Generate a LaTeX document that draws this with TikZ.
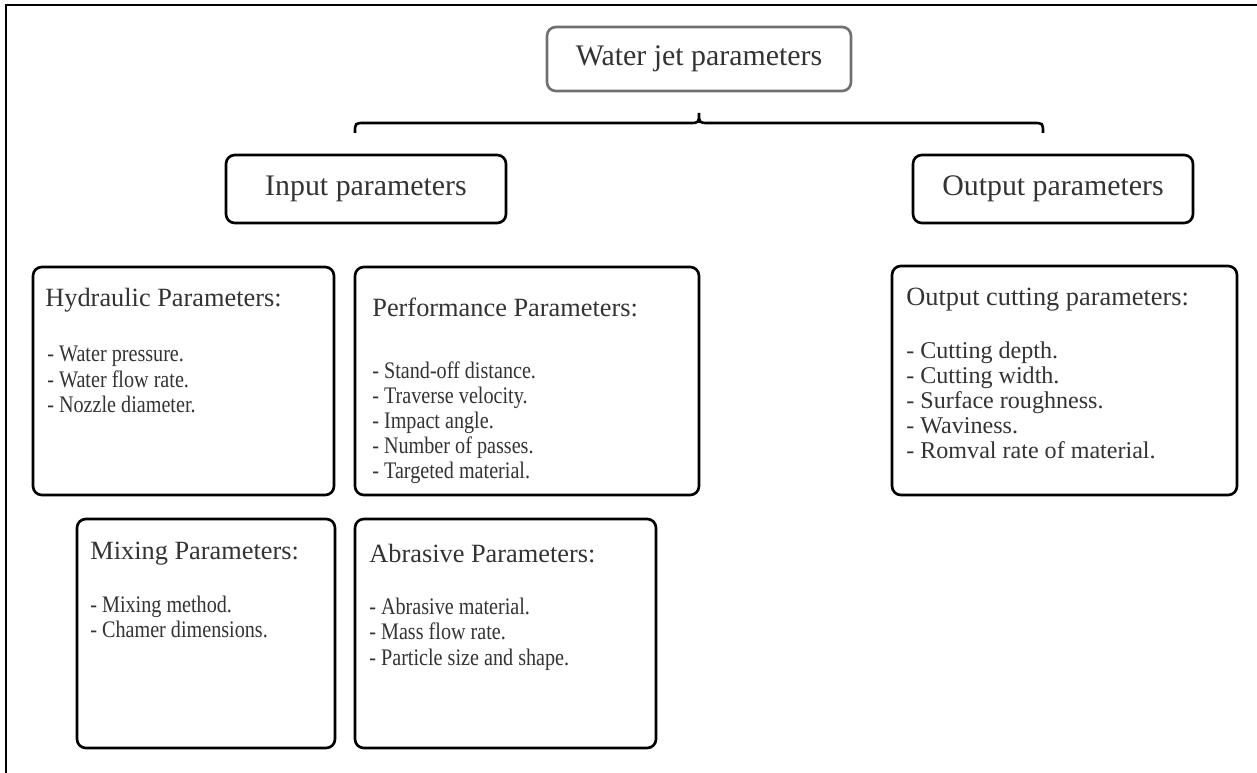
\documentclass[tikz,border=0pt]{standalone}
\usepackage{fontspec}
\setmainfont{Liberation Serif}
\newfontfamily\narrowserif[FakeStretch=0.85]{Liberation Serif}
\usetikzlibrary{positioning}
\definecolor{inkgray}{HTML}{333333}
\definecolor{framegray}{HTML}{707070}

\begin{document}
\begin{tikzpicture}[x=0.02cm,y=-0.02cm,
 title/.style={rounded corners=5pt,draw,line width=1.5pt,align=center,inner sep=0pt,text=inkgray,font=\fontsize{17}{20}\selectfont},
 pbox/.style={rounded corners=5pt,draw,line width=1.5pt,inner sep=0pt},
 head/.style={anchor=west,inner sep=0pt,text=inkgray,font=\fontsize{15}{18}\selectfont},
 items/.style={anchor=north west,inner sep=0pt,align=left,text=inkgray,font=\narrowserif\fontsize{13.5}{14.3}\selectfont},
 brace/.style={line width=1.5pt}]
\useasboundingbox (0,0) rectangle (1257,773);
% outer frame (top and left only)
\draw[line width=1.1pt] (6,773) -- (6,5) -- (1257,5);

% top level
\node[title,draw=framegray,minimum width=6.08cm,minimum height=1.28cm] (wj) at (699,59) {Water jet parameters};
\coordinate (tip) at (699,113);
\draw[brace] (355,133) .. controls (355,123) .. (365,123) -- (689,123) .. controls (699,123) .. (tip)
 .. controls (699,123) .. (709,123) -- (1033,123) .. controls (1043,123) .. (1043,133);

\node[title,minimum width=5.6cm,minimum height=1.36cm] (in) at (366,189) {Input parameters};
\node[title,minimum width=5.6cm,minimum height=1.36cm] (out) at (1053,189) {Output parameters};

% input groups
\node[pbox,minimum width=6.02cm,minimum height=4.56cm] (hyd) at (183.5,381) {};
\node[head] (hydh) at (45,300) {Hydraulic Parameters:};
\node[items] (hydl) at (47,346) {- Water pressure.\\- Water flow rate.\\- Nozzle diameter.};

\node[pbox,minimum width=6.88cm,minimum height=4.56cm] (perf) at (527,381) {};
\node[head] (perfh) at (372,307) {Performance Parameters:};
\node[items] (perfl) at (372,361) {- Stand-off distance.\\- Traverse velocity.\\- Impact angle.\\- Number of passes.\\- Targeted material.};

\node[pbox,minimum width=5.16cm,minimum height=4.58cm] (mix) at (206,633.5) {};
\node[head] (mixh) at (90,554) {Mixing Parameters:};
\node[items] (mixl) at (90,596) {- Mixing method.\\- Chamer dimensions.};

\node[pbox,minimum width=6.02cm,minimum height=4.58cm] (abr) at (505.5,633.5) {};
\node[head] (abrh) at (369,554) {Abrasive Parameters:};
\node[items] (abrl) at (369,598) {- Abrasive material.\\- Mass flow rate.\\- Particle size and shape.};

% output group
\node[pbox,minimum width=6.9cm,minimum height=4.58cm] (cut) at (1064.5,380.5) {};
\node[head] (cuth) at (906,300) {Output cutting parameters:};
\node[items,font=\fontsize{13.7}{14.3}\selectfont] (cutl) at (906,341) {- Cutting depth.\\- Cutting width.\\- Surface roughness.\\- Waviness.\\- Romval rate of material.};
\end{tikzpicture}
\end{document}
